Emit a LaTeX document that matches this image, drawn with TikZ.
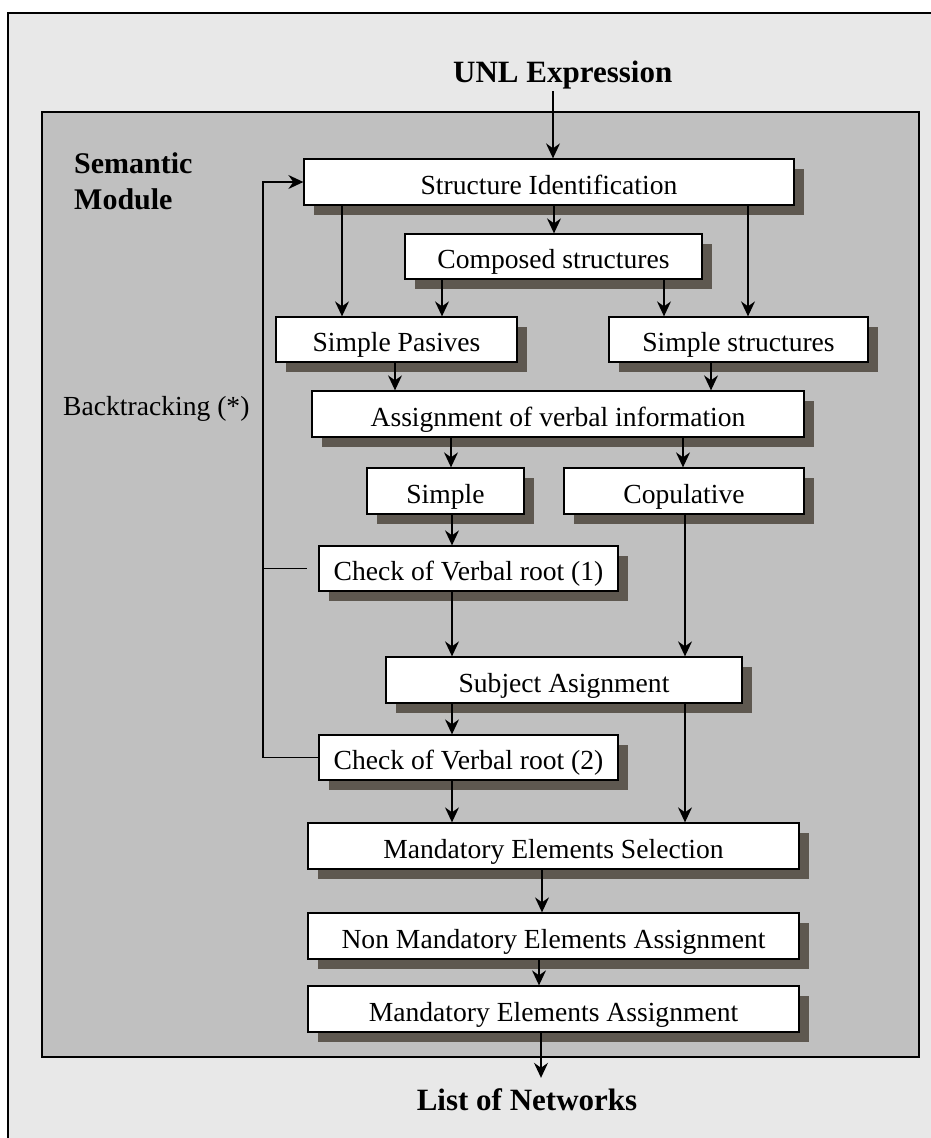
\documentclass[tikz,border=0pt]{standalone}
\usepackage{fontspec}
\setmainfont{Liberation Serif}
\usetikzlibrary{arrows.meta,shadows}
\definecolor{paper}{HTML}{E8E8E8}
\definecolor{panel}{HTML}{C0C0C0}
\definecolor{shade}{RGB}{94,88,80}

\begin{document}
\begin{tikzpicture}[x=1pt,y=-1pt,
  stepbox/.style={draw, fill=white, line width=1.3pt, inner sep=0pt,
    text height=25pt, text depth=1pt, font=\fontsize{27.6}{30}\selectfont,
    drop shadow={shadow xshift=10pt, shadow yshift=-9.5pt, fill=shade, opacity=1}},
  flow/.style={line width=1.3pt, -{Stealth[length=15pt,width=14pt,inset=5pt]}},
  link/.style={line width=1.3pt},
  heading/.style={font=\bfseries\fontsize{31}{36}\selectfont, inner sep=0pt},
  plainlabel/.style={font=\fontsize{27.6}{30}\selectfont, inner sep=0pt}]

\useasboundingbox (0,0) rectangle (931,1138);
\fill[white] (0,0) rectangle (931,1138);
% outer sheet and module panel
\begin{scope}
  \clip (0,0) rectangle (931,1138);
  \draw[fill=paper, line width=1.3pt] (8,13) rectangle (945,1150);
\end{scope}
\draw[fill=panel, line width=1.3pt] (42,112) rectangle (919,1057);

% labels
\node[heading, anchor=base west, text depth=9pt] (unl) at (453,82) {UNL Expression};
\node[heading, anchor=base, text height=32pt] (nets) at (527,1110) {List of Networks};
\node[heading, anchor=base west, align=left, font=\bfseries\fontsize{30}{36}\selectfont] (mod) at (74,209) {Semantic\\Module};
\node[plainlabel, anchor=base west] (bt) at (63,415) {Backtracking (*)};

% processing steps
\node[stepbox, minimum width=490pt, minimum height=46pt] (si)   at (549,182)     {Structure Identification};
\node[stepbox, minimum width=297pt, minimum height=45pt] (cs)   at (553.5,256.5) {Composed structures};
\node[stepbox, minimum width=241pt, minimum height=45pt] (sp)   at (396.5,339.5) {Simple Pasives};
\node[stepbox, minimum width=259pt, minimum height=45pt] (ss)   at (738.5,339.5) {Simple structures};
\node[stepbox, minimum width=492pt, minimum height=46pt] (av)   at (558,414)     {Assignment of verbal information};
\node[stepbox, minimum width=157pt, minimum height=46pt] (sim)  at (445.5,491)   {Simple};
\node[stepbox, minimum width=240pt, minimum height=46pt] (cop)  at (684,491)     {Copulative};
\node[stepbox, minimum width=299pt, minimum height=45pt] (cv1)  at (468.5,568.5) {Check of Verbal root (1)};
\node[stepbox, minimum width=356pt, minimum height=46pt] (sub)  at (564,680)     {Subject Asignment};
\node[stepbox, minimum width=299pt, minimum height=45pt] (cv2)  at (468.5,757.5) {Check of Verbal root (2)};
\node[stepbox, minimum width=491pt, minimum height=46pt] (mes)  at (553.5,846)   {Mandatory Elements Selection};
\node[stepbox, minimum width=491pt, minimum height=46pt] (nmea) at (553.5,936)   {Non Mandatory Elements Assignment};
\node[stepbox, minimum width=491pt, minimum height=46pt] (mea)  at (553.5,1009)  {Mandatory Elements Assignment};

% connectors
\draw[flow] (unl.south -| 553,0) -- (si.north -| 553,0);
\draw[flow] (si.south -| 342,0) -- (sp.north -| 342,0);
\draw[flow] (si.south -| 554,0) -- (cs.north -| 554,0);
\draw[flow] (si.south -| 748,0) -- (ss.north -| 748,0);
\draw[flow] (cs.south -| 442,0) -- (sp.north -| 442,0);
\draw[flow] (cs.south -| 664,0) -- (ss.north -| 664,0);
\draw[flow] (sp.south -| 395,0) -- (av.north -| 395,0);
\draw[flow] (ss.south -| 711,0) -- (av.north -| 711,0);
\draw[flow] (av.south -| 451,0) -- (sim.north -| 451,0);
\draw[flow] (av.south -| 683,0) -- (cop.north -| 683,0);
\draw[flow] (sim.south -| 452,0) -- (cv1.north -| 452,0);
\draw[flow] (cv1.south -| 452,0) -- (sub.north -| 452,0);
\draw[flow] (cop.south -| 685,0) -- (sub.north -| 685,0);
\draw[flow] (sub.south -| 452,0) -- (cv2.north -| 452,0);
\draw[flow] (sub.south -| 685,0) -- (mes.north -| 685,0);
\draw[flow] (cv2.south -| 452,0) -- (mes.north -| 452,0);
\draw[flow] (mes.south -| 542,0) -- (nmea.north -| 542,0);
\draw[flow] (nmea.south -| 539,0) -- (mea.north -| 539,0);
\draw[flow] (mea.south -| 541,0) -- (nets.north -| 541,0);

% backtracking loop
\draw[flow] (cv2.west) -- (cv2.west -| 263,0) |- (si.west);
\draw[link] (cv1.west -| 263,0) -- ([xshift=-11pt]cv1.west);
\end{tikzpicture}
\end{document}
